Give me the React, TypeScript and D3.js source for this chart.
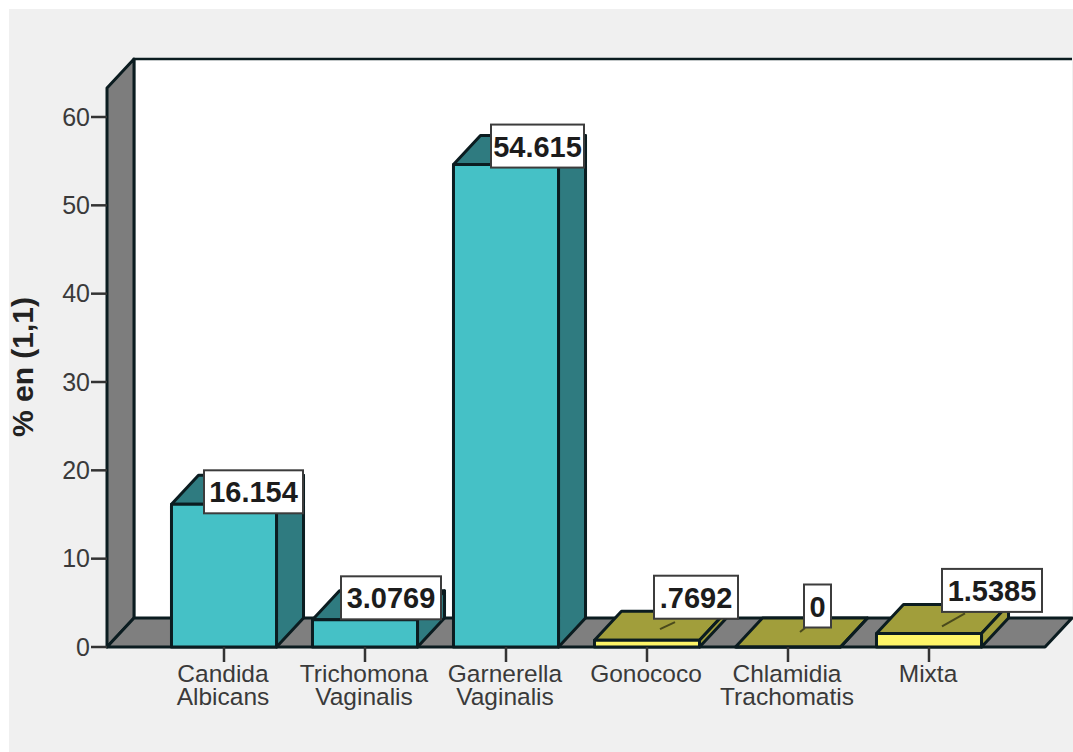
import React from "react";
import * as d3 from "d3";

// Vaginal infection share by agent, SPSS-style 3D bars
const categories = [
  ["Candida", "Albicans"],
  ["Trichomona", "Vaginalis"],
  ["Garnerella", "Vaginalis"],
  ["Gonococo"],
  ["Chlamidia", "Trachomatis"],
  ["Mixta"],
];
const values = [16.154, 3.0769, 54.615, 0.7692, 0, 1.5385];
const yTicks = [0, 10, 20, 30, 40, 50, 60];
const yTitle = "% en (1,1)";
const barGroups = [0, 0, 0, 1, 1, 1];

const palette = [
  { front: "#45c1c6", dark: "#2f7b80" },
  { front: "#fdf568", dark: "#a19e3b" },
];

// Label placement relative to the centre of each bar's front top edge
const labelOffsets = [
  { dx: 29.5, dy: -12.5, w: 99 },
  { dx: 26, dy: -22, w: 100 },
  { dx: 31.5, dy: -18.5, w: 93 },
  { dx: 49, dy: -43, w: 84 },
  { dx: 29.5, dy: -41, w: 27 },
  { dx: 63, dy: -43, w: 100 },
];
const leaderLines = [null, null, null, [13, -11, 28, -18], [12, -15, 17, -19], [13, -7, 36, -20]];

const DX = 27;
const DY = -29;
const LEFT = 107;
const RIGHT = 1045;
const INK = "#0b1c20";
const FONT = "'Liberation Sans', Arial, sans-serif";

const y = d3.scaleLinear().domain([0, 60]).range([647, 117]);
const x = d3
  .scaleBand<number>()
  .domain(d3.range(categories.length))
  .range([153.5, 999.5])
  .paddingInner(0.255)
  .paddingOuter(0.1275);

const poly = (pts: [number, number][]) => (d3.line()(pts) ?? "") + "Z";
const formatValue = (v: number) => String(v).replace(/^0\./, ".");

export default function App() {
  const y0 = y(0);
  const top = 88;
  return (
    <svg
      width={1073}
      height={752}
      style={{ position: "absolute", left: 0, top: 0, fontFamily: FONT }}
    >
      <rect width={1073} height={752} fill="#fff" />
      <rect x={9} y={9} width={1064} height={743} fill="#f0f0f0" />

      {/* back wall, side wall, floor */}
      <path
        d={poly([[LEFT + DX, top + DY], [RIGHT + DX, top + DY], [RIGHT + DX, y0 + DY], [LEFT + DX, y0 + DY]])}
        fill="#fff"
        stroke="none"
      />
      <path
        d={`M${LEFT + DX},${y0 + DY}V${top + DY}H${RIGHT + DX}`}
        fill="none"
        stroke={INK}
        strokeWidth={2.5}
      />
      <path
        d={poly([[LEFT, top], [LEFT + DX, top + DY], [LEFT + DX, y0 + DY], [LEFT, y0]])}
        fill="#7d7d7d"
        stroke={INK}
        strokeWidth={3}
        strokeLinejoin="round"
      />
      <path
        d={poly([[LEFT, y0], [LEFT + DX, y0 + DY], [RIGHT + DX, y0 + DY], [RIGHT, y0]])}
        fill="#7f7f7f"
        stroke={INK}
        strokeWidth={3}
        strokeLinejoin="round"
      />

      {/* value axis */}
      <g>
        {yTicks.map((t) => (
          <g key={t}>
            <line x1={91} x2={LEFT} y1={y(t)} y2={y(t)} stroke="#333" strokeWidth={2.5} />
            <text x={90} y={y(t) + 8.5} textAnchor="end" fontSize={25} fill="#3a3a3a">
              {t}
            </text>
          </g>
        ))}
      </g>
      <text
        transform="translate(33,367) rotate(-90)"
        textAnchor="middle"
        fontSize={30}
        fontWeight="bold"
        fill="#222"
      >
        {yTitle}
      </text>

      {/* bars */}
      {values.map((v, i) => {
        const bx = x(i) as number;
        const w = x.bandwidth();
        const yv = y(v);
        const c = palette[barGroups[i]];
        return (
          <g key={i} stroke={INK} strokeWidth={3} strokeLinejoin="round">
            <path
              d={poly([[bx, yv], [bx + DX, yv + DY], [bx + w + DX, yv + DY], [bx + w, yv]])}
              fill={c.dark}
            />
            <path
              d={poly([[bx + w, yv], [bx + w + DX, yv + DY], [bx + w + DX, y0 + DY], [bx + w, y0]])}
              fill={c.dark}
            />
            {v > 0 && <rect x={bx} y={yv} width={w} height={y0 - yv} fill={c.front} />}
            {v === 0 && <line x1={bx} x2={bx + w} y1={y0} y2={y0} />}
          </g>
        );
      })}

      {/* category axis */}
      {categories.map((lines, i) => {
        const cx = (x(i) as number) + x.bandwidth() / 2;
        return (
          <g key={i}>
            <line x1={cx} x2={cx} y1={y0} y2={y0 + 15} stroke="#333" strokeWidth={2.5} />
            <text textAnchor="middle" fontSize={24.5} fill="#3a3a3a">
              {lines.map((l, j) => (
                <tspan key={j} x={cx - 1} y={682 + j * 23}>
                  {l}
                </tspan>
              ))}
            </text>
          </g>
        );
      })}

      {/* value labels with leader lines */}
      {values.map((v, i) => {
        const cx = (x(i) as number) + x.bandwidth() / 2;
        const yv = y(v);
        const o = labelOffsets[i];
        const lx = cx + o.dx;
        const ly = yv + o.dy;
        const lead = leaderLines[i];
        return (
          <g key={i}>
            {lead && (
              <line
                x1={cx + lead[0]}
                y1={yv + lead[1]}
                x2={cx + lead[2]}
                y2={yv + lead[3]}
                stroke="#4a4a1c"
                strokeWidth={2}
              />
            )}
            <rect
              x={lx - o.w / 2}
              y={ly - 21.5}
              width={o.w}
              height={43}
              fill="#fff"
              stroke="#3c3c3c"
              strokeWidth={2}
            />
            <text x={lx} y={ly + 10.5} textAnchor="middle" fontSize={29} fontWeight="bold" fill="#1c1c1c">
              {formatValue(v)}
            </text>
          </g>
        );
      })}
    </svg>
  );
}
